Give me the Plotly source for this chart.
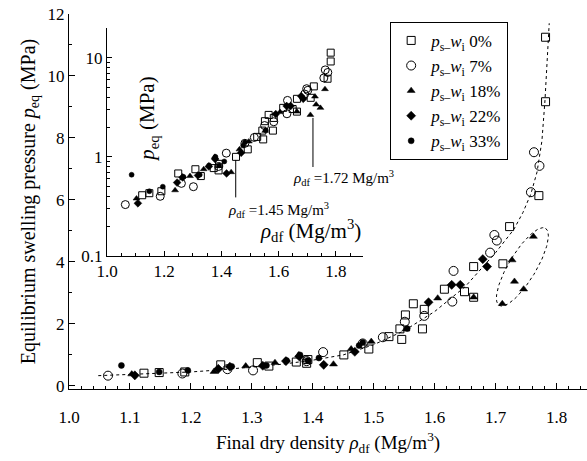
import numpy as np
import plotly.graph_objects as go

# ---------------- data ----------------
sq_x = [1.123, 1.148, 1.190, 1.249, 1.309, 1.328, 1.373, 1.390, 1.392, 1.451, 1.492, 1.525, 1.543, 1.546,
        1.552, 1.565, 1.580, 1.583, 1.616, 1.649, 1.664, 1.664, 1.712, 1.723, 1.771, 1.782, 1.782]
sq_y = [0.41, 0.43, 0.45, 0.68, 0.75, 0.64, 0.77, 0.73, 0.85, 1.00, 1.19, 1.59, 1.84, 1.50,
        2.29, 2.65, 1.84, 2.47, 3.12, 3.04, 2.86, 3.85, 3.94, 5.14, 6.14, 9.17, 11.25]

ci_x = [1.064, 1.186, 1.260, 1.302, 1.390, 1.417, 1.482, 1.515, 1.551, 1.583, 1.629, 1.631,
        1.691, 1.698, 1.702, 1.758, 1.763, 1.772]
ci_y = [0.33, 0.40, 0.54, 0.50, 0.80, 1.09, 1.37, 1.57, 2.07, 2.26, 2.72, 3.71,
        4.30, 4.87, 4.69, 6.25, 7.54, 7.10]

tr_x = [1.103, 1.238, 1.290, 1.338, 1.377, 1.434, 1.463, 1.496, 1.553, 1.605, 1.664, 1.711,
        1.727, 1.731, 1.746, 1.762]
tr_y = [0.38, 0.46, 0.64, 0.75, 1.00, 0.70, 1.19, 1.43, 1.83, 2.83, 2.86, 2.65,
        4.06, 3.37, 3.12, 4.82]

di_x = [1.108, 1.245, 1.264, 1.318, 1.356, 1.378, 1.418, 1.469, 1.590, 1.628, 1.642, 1.679, 1.686]
di_y = [0.34, 0.55, 0.62, 0.65, 0.80, 0.95, 0.68, 1.10, 2.70, 3.26, 3.26, 4.09, 3.85]

sp_x = [1.086, 1.148, 1.195, 1.267, 1.324, 1.357, 1.379, 1.392, 1.410, 1.476, 1.482, 1.555]
sp_y = [0.66, 0.45, 0.50, 0.63, 0.66, 0.82, 1.00, 0.82, 0.90, 1.30, 1.40, 1.85]

fit_x = [1.048, 1.10, 1.15, 1.20, 1.25, 1.30, 1.35, 1.40, 1.45, 1.50, 1.55, 1.60, 1.65, 1.70,
         1.73, 1.745, 1.758, 1.768, 1.776, 1.781, 1.786, 1.788]
fit_y = [0.33, 0.37, 0.41, 0.45, 0.52, 0.60, 0.70, 0.83, 1.00, 1.33, 1.78, 2.40, 3.20, 4.30,
         5.05, 5.60, 6.20, 6.90, 7.90, 9.20, 11.20, 11.70]

series_names = ["0%", "7%", "18%", "22%", "33%"]
x_ticks_main = [1.0, 1.1, 1.2, 1.3, 1.4, 1.5, 1.6, 1.7, 1.8]
y_ticks_main = [0, 2, 4, 6, 8, 10, 12]
x_ticks_inset = [1.0, 1.2, 1.4, 1.6, 1.8]
y_ticks_inset = [0.1, 1, 10]
y_ticks_inset_text = ["0.1", "1", "10"]

# annotation markers (density values highlighted in inset)
mark_rho = [1.45, 1.72]
mark_top = [0.93, 2.47]
mark_bot = [0.39, 0.79]

# ellipse (highlight) : center, semi-axes in screen px, tilt
ell_c = (1.744, 3.84)
ell_a_px, ell_b_px, ell_tilt_deg = 45.0, 13.7, 31.0

FONT = "Liberation Serif, Tinos, Times New Roman, DejaVu Serif, serif"
W, H = 587, 461
ML, MR, MT, MB = 69, 0, 14, 72
XR = [1.0, 1.85]
YR = [-0.1, 12.0]

fig = go.Figure()

styles = [
    dict(symbol="square-open", size=8, color="black", line=dict(width=1, color="black")),
    dict(symbol="circle-open", size=9, color="black", line=dict(width=1, color="black")),
    dict(symbol="triangle-up", size=7, color="black", line=dict(width=0.5, color="black")),
    dict(symbol="diamond", size=7, color="black", line=dict(width=0.5, color="black")),
    dict(symbol="circle", size=6, color="black", line=dict(width=0.5, color="black")),
]
data_sets = [(sq_x, sq_y), (ci_x, ci_y), (tr_x, tr_y), (di_x, di_y), (sp_x, sp_y)]

# main fit curve
fig.add_trace(go.Scatter(x=fit_x, y=fit_y, mode="lines", showlegend=False,
                         line=dict(color="black", width=1, dash="dot"), hoverinfo="skip"))

# ellipse
pxx = (W - ML - MR) / (XR[1] - XR[0])
pxy = (H - MT - MB) / (YR[1] - YR[0])
t = np.linspace(0, 2 * np.pi, 120)
th = np.deg2rad(ell_tilt_deg)
dx = ell_a_px * np.cos(t) * np.sin(th) + ell_b_px * np.sin(t) * np.cos(th)
dy = ell_a_px * np.cos(t) * np.cos(th) - ell_b_px * np.sin(t) * np.sin(th)
fig.add_trace(go.Scatter(x=ell_c[0] + dx / pxx, y=ell_c[1] + dy / pxy, mode="lines",
                         showlegend=False, line=dict(color="black", width=1, dash="dot"),
                         hoverinfo="skip"))

for (xs, ys), name, st in zip(data_sets, series_names, styles):
    label = "<i>p</i><sub>s–</sub><i>w</i><sub>i</sub> " + name
    fig.add_trace(go.Scatter(x=xs, y=ys, mode="markers", name=label, marker=st))

# inset
for (xs, ys), st in zip(data_sets, styles):
    st2 = dict(st)
    st2["size"] = st["size"] - 1
    fig.add_trace(go.Scatter(x=xs, y=ys, mode="markers", marker=st2, showlegend=False,
                             xaxis="x2", yaxis="y2"))
for r, a, b in zip(mark_rho, mark_top, mark_bot):
    fig.add_trace(go.Scatter(x=[r, r], y=[a, b], mode="lines", showlegend=False,
                             line=dict(color="black", width=1), xaxis="x2", yaxis="y2",
                             hoverinfo="skip"))

axis_common = dict(showline=True, linecolor="black", linewidth=1.2, ticks="inside",
                   tickcolor="black", showgrid=False, zeroline=False,
                   tickfont=dict(family=FONT, size=17, color="black"))

fig.update_layout(
    width=W, height=H,
    margin=dict(l=ML, r=MR, t=MT, b=MB),
    paper_bgcolor="white", plot_bgcolor="white",
    font=dict(family=FONT, color="black"),
    xaxis=dict(range=XR, tickvals=x_ticks_main, tickformat=".1f", ticklen=6,
               ticklabelstandoff=12,
               minor=dict(dtick=0.02, ticks="inside", ticklen=3, tickcolor="black"),
               title=dict(text="Final dry density <i>ρ</i><sub>df</sub> (Mg/m<sup>3</sup>)",
                          font=dict(family=FONT, size=19), standoff=10),
               **axis_common),
    yaxis=dict(range=YR, tickvals=y_ticks_main, ticklen=6,
               minor=dict(dtick=1, ticks="inside", ticklen=3, tickcolor="black"),
               title=dict(text="Equilibrium swelling pressure <i>p</i><sub>eq</sub> (MPa)",
                          font=dict(family=FONT, size=20), standoff=6),
               **axis_common),
    xaxis2=dict(domain=[0.0734, 0.5676], anchor="y2", range=[1.0, 1.895],
                tickvals=x_ticks_inset, tickformat=".1f", ticklen=5,
                minor=dict(dtick=0.05, ticks="inside", ticklen=3, tickcolor="black"),
                **axis_common),
    yaxis2=dict(domain=[0.3547, 0.9627], anchor="x2", type="log", range=[-1, 1.3],
                tickvals=y_ticks_inset, ticktext=y_ticks_inset_text, ticklen=5,
                minor=dict(tickvals=[0.2, 0.3, 0.4, 0.5, 0.6, 0.7, 0.8, 0.9,
                                     2, 3, 4, 5, 6, 7, 8, 9],
                           ticks="inside", ticklen=3, tickcolor="black"),
                **axis_common),
    legend=dict(x=0.62, y=0.979, xanchor="left", yanchor="top",
                bordercolor="black", borderwidth=1, bgcolor="white",
                font=dict(family=FONT, size=17, color="black"),
                itemwidth=30, tracegroupgap=0),
    showlegend=True,
)

fig.add_annotation(text="<i>p</i><sub>eq</sub> (MPa)", xref="paper", yref="paper",
                   x=0.1236, y=0.837, textangle=-90, showarrow=False,
                   font=dict(family=FONT, size=21))
fig.add_annotation(text="<i>ρ</i><sub>df</sub> (Mg/m<sup>3</sup>)", xref="paper", yref="paper",
                   x=0.467, y=0.424, showarrow=False, font=dict(family=FONT, size=21))
fig.add_annotation(text="<i>ρ</i><sub>df</sub> =1.45 Mg/m<sup>3</sup>", xref="paper", yref="paper",
                   x=0.4035, y=0.477, showarrow=False, font=dict(family=FONT, size=15))
fig.add_annotation(text="<i>ρ</i><sub>df</sub> =1.72 Mg/m<sup>3</sup>", xref="paper", yref="paper",
                   x=0.529, y=0.563, showarrow=False, font=dict(family=FONT, size=15))

fig.write_html("out.html")
